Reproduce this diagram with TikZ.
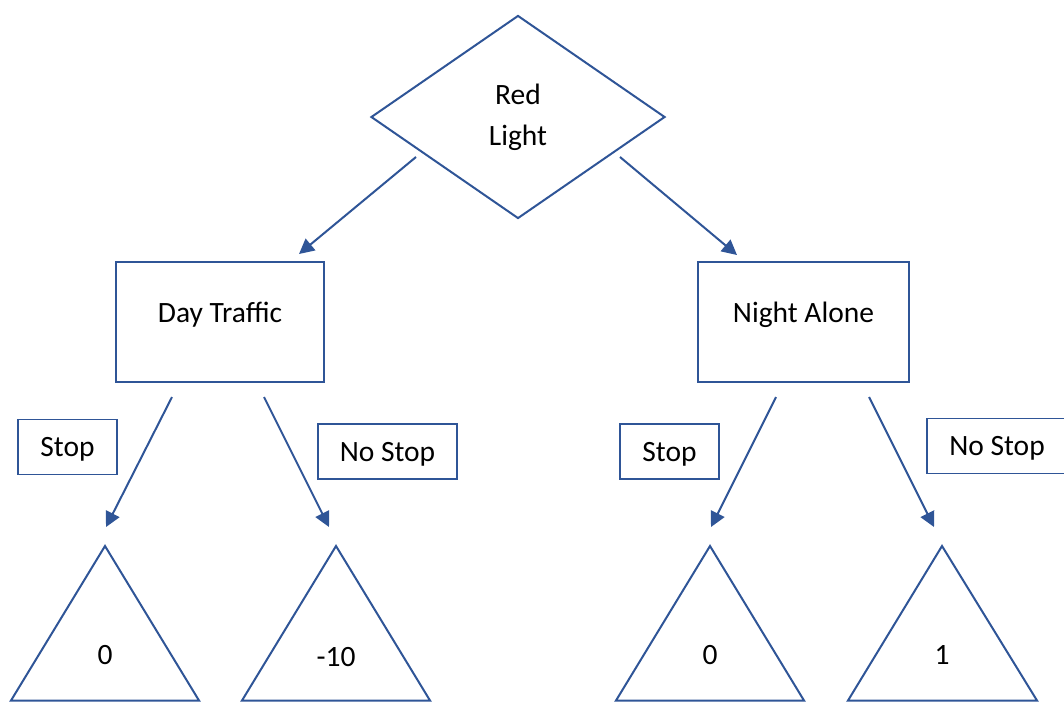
\documentclass[tikz,border=0pt]{standalone}
\usepackage{fontspec}
\setmainfont{Carlito}
\usetikzlibrary{shapes.geometric,arrows.meta}
\definecolor{officeblue}{RGB}{47,85,151}

\begin{document}
\begin{tikzpicture}[x=1pt,y=-1pt,
        every node/.style={font=\fontsize{29.5}{41}\selectfont, inner sep=0pt},
        capcentre/.style={text height=19pt, text depth=0pt},
        decision/.style={diamond, draw=officeblue, line width=2pt, align=center,
            minimum width=294pt, minimum height=203pt},
        state/.style={rectangle, draw=officeblue, line width=2pt, capcentre,
            text depth=18pt, minimum height=120pt},
        choice/.style={rectangle, draw=officeblue, line width=1.6pt, capcentre,
            minimum height=55pt},
        branch/.style={draw=officeblue, line width=2pt,
            -{Triangle[length=15pt,width=15pt]}}]
        \useasboundingbox (0,0) rectangle (1064,702);
        \clip (0,0) rectangle (1064,702);

        % the decision and the two situations
        \node[decision] (red) at (518,117) {Red\\Light};
        \node[state, minimum width=208pt] (day) at (220,322) {Day Traffic};
        \node[state, minimum width=211pt] (night) at (803.5,322) {Night Alone};

        % the labels of the choices
        \node[choice, minimum width=99pt] (stop1) at (67.5,447) {Stop};
        \node[choice, minimum width=139pt] (nostop1) at (387.5,451.5) {No Stop};
        \node[choice, minimum width=99pt] (stop2) at (669.5,451.5) {Stop};
        \node[choice, minimum width=140pt] (nostop2) at (997,446) {No Stop};

        % the payoffs (triangles with their values)
        \draw[officeblue, line width=2pt] (105,546) -- (11,700.5) -- (199,700.5) -- cycle;
        \draw[officeblue, line width=2pt] (336,546) -- (242,700.5) -- (430,700.5) -- cycle;
        \draw[officeblue, line width=2pt] (710,546) -- (616,700.5) -- (804,700.5) -- cycle;
        \draw[officeblue, line width=2pt] (942,546) -- (848,700.5) -- (1037,700.5) -- cycle;
        \node[capcentre] (p1) at (105,655) {0};
        \node[capcentre] (p2) at (336,657) {-10};
        \node[capcentre] (p3) at (710,655) {0};
        \node[capcentre] (p4) at (942,655) {1};

        % start and end points of the arrows
        \coordinate (r1) at (416,157);
        \coordinate (r2) at (620,157);
        \coordinate (dayin) at (299,254);
        \coordinate (nightin) at (737,255);
        \coordinate (d1) at (172,397);
        \coordinate (d2) at (264,397);
        \coordinate (n1) at (776,397);
        \coordinate (n2) at (869,397);
        \coordinate (t1) at (106,527);
        \coordinate (t2) at (329,527);
        \coordinate (t3) at (711,527);
        \coordinate (t4) at (934,527);

        % draw the arrows
        \draw[branch] (r1) -- (dayin);
        \draw[branch] (r2) -- (nightin);
        \draw[branch] (d1) -- (t1);
        \draw[branch] (d2) -- (t2);
        \draw[branch] (n1) -- (t3);
        \draw[branch] (n2) -- (t4);

    \end{tikzpicture}
\end{document}
